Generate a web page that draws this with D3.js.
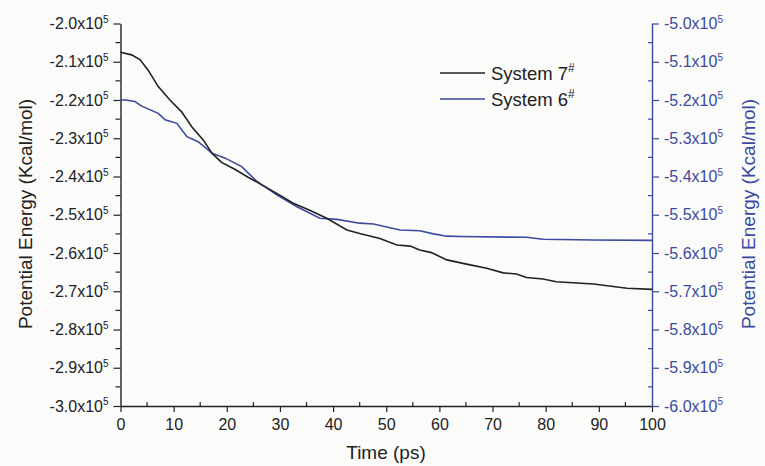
<!DOCTYPE html>
<html>
<head>
<meta charset="utf-8">
<script src="https://cdn.jsdelivr.net/npm/d3@7.9.0/dist/d3.min.js"></script>
<style>
  body { margin: 0; background: #fbfbf9; }
  svg { display: block; font-family: "Liberation Sans", Arial, sans-serif; }
</style>
</head>
<body>
<svg id="chart" width="765" height="466"></svg>
<script>
// System 7# (left axis, x10^5 Kcal/mol)
const time7 = [0, 2.1, 3.7, 5.2, 7.1, 9.3, 11.5, 13.4, 15.6, 17.2, 19.0, 21.5, 24.0, 25.6, 29.4, 32.5, 35.6, 38.8, 42.6, 45, 48.8, 52, 54.5, 56.3, 58.5, 61.4, 65.1, 68.9, 72, 74.5, 76.4, 79.5, 82, 89, 95.3, 100];
const energy7 = [-2.075, -2.082, -2.095, -2.122, -2.165, -2.200, -2.231, -2.270, -2.305, -2.339, -2.363, -2.381, -2.402, -2.414, -2.444, -2.470, -2.488, -2.509, -2.540, -2.549, -2.562, -2.579, -2.582, -2.592, -2.599, -2.618, -2.629, -2.640, -2.652, -2.655, -2.664, -2.668, -2.675, -2.681, -2.692, -2.695];

// System 6# (right axis, x10^5 Kcal/mol)
const time6 = [0, 1, 2.7, 4.0, 7.1, 8.4, 10.6, 12.5, 14.6, 17.2, 19.7, 22.8, 25.6, 29.4, 33.2, 37.5, 40.7, 45, 47.6, 52.6, 56.3, 58.9, 61.4, 63.9, 76.4, 79.5, 89, 100];
const energy6 = [-5.200, -5.200, -5.204, -5.216, -5.235, -5.252, -5.261, -5.296, -5.309, -5.339, -5.352, -5.374, -5.412, -5.448, -5.479, -5.509, -5.512, -5.522, -5.524, -5.540, -5.542, -5.550, -5.556, -5.557, -5.559, -5.564, -5.566, -5.567];

const xTicks = [0, 10, 20, 30, 40, 50, 60, 70, 80, 90, 100];
const leftTicks = [-3.0, -2.9, -2.8, -2.7, -2.6, -2.5, -2.4, -2.3, -2.2, -2.1, -2.0];
const rightTicks = [-6.0, -5.9, -5.8, -5.7, -5.6, -5.5, -5.4, -5.3, -5.2, -5.1, -5.0];

const blue = '#3a4aa0';
const dark = '#222';
const font = '"Liberation Sans", Arial, sans-serif';

const svg = d3.select('#chart');
const mLeft = 120.5, mRight = 652, mTop = 23.5, mBottom = 406;

const x = d3.scaleLinear().domain([0, 100]).range([mLeft, mRight]);
const yL = d3.scaleLinear().domain([-3.0, -2.0]).range([mBottom, mTop]);
const yR = d3.scaleLinear().domain([-6.0, -5.0]).range([mBottom, mTop]);

svg.append('rect').attr('width', 765).attr('height', 466).attr('fill', '#fbfbf9');

function sciLabel(sel) {
  sel.each(function (d) {
    const t = d3.select(this);
    t.text(null);
    t.append('tspan').text(d.toFixed(1) + 'x10');
    t.append('tspan').attr('dy', -6.5).attr('font-size', 10).text('5');
  });
}

// x axis
const xAxis = svg.append('g').attr('transform', `translate(0,${mBottom})`)
  .call(d3.axisBottom(x).tickValues(xTicks).tickSize(6).tickSizeOuter(0).tickFormat(d3.format('d')));
xAxis.select('.domain').attr('stroke', dark).attr('stroke-width', 1.4);
xAxis.selectAll('.tick line').attr('stroke', dark).attr('stroke-width', 1.2);
xAxis.selectAll('.tick text').attr('font-size', 16).attr('fill', dark).attr('dy', '0.95em')
  .attr('font-family', font);
// minor x ticks (inward)
svg.append('g').selectAll('line').data(xTicks.slice(0, -1).map(d => d + 5)).join('line')
  .attr('x1', d => x(d)).attr('x2', d => x(d))
  .attr('y1', mBottom).attr('y2', mBottom - 4)
  .attr('stroke', dark).attr('stroke-width', 1.2);

// left axis
const lAxis = svg.append('g').attr('transform', `translate(${mLeft},0)`)
  .call(d3.axisLeft(yL).tickValues(leftTicks).tickSize(7).tickSizeOuter(0));
lAxis.select('.domain').attr('stroke', dark).attr('stroke-width', 1.4);
lAxis.selectAll('.tick line').attr('stroke', dark).attr('stroke-width', 1.2);
lAxis.selectAll('.tick text').attr('font-size', 16).attr('fill', dark).attr('x', -12)
  .attr('font-family', font).call(sciLabel);
svg.append('g').selectAll('line').data(leftTicks.slice(0, -1).map(d => d + 0.05)).join('line')
  .attr('x1', mLeft).attr('x2', mLeft - 5)
  .attr('y1', d => yL(d)).attr('y2', d => yL(d))
  .attr('stroke', dark).attr('stroke-width', 1.2);

// right axis
const rAxis = svg.append('g').attr('transform', `translate(${mRight},0)`)
  .call(d3.axisRight(yR).tickValues(rightTicks).tickSize(7).tickSizeOuter(0));
rAxis.select('.domain').attr('stroke', blue).attr('stroke-width', 1.4);
rAxis.selectAll('.tick line').attr('stroke', blue).attr('stroke-width', 1.2);
rAxis.selectAll('.tick text').attr('font-size', 16).attr('fill', blue).attr('x', 12)
  .attr('font-family', font).call(sciLabel);
svg.append('g').selectAll('line').data(rightTicks.slice(0, -1).map(d => d + 0.05)).join('line')
  .attr('x1', mRight).attr('x2', mRight - 4)
  .attr('y1', d => yR(d)).attr('y2', d => yR(d))
  .attr('stroke', blue).attr('stroke-width', 1.2);

// lines
const line7 = d3.line().x((d, i) => x(time7[i])).y(d => yL(d));
const line6 = d3.line().x((d, i) => x(time6[i])).y(d => yR(d));
svg.append('path').datum(energy6).attr('d', line6)
  .attr('fill', 'none').attr('stroke', blue).attr('stroke-width', 1.6);
svg.append('path').datum(energy7).attr('d', line7)
  .attr('fill', 'none').attr('stroke', dark).attr('stroke-width', 1.6);

// axis titles
svg.append('text').attr('transform', 'translate(32,214) rotate(-90)')
  .attr('text-anchor', 'middle').attr('font-size', 19).attr('fill', dark)
  .text('Potential Energy (Kcal/mol)');
svg.append('text').attr('transform', 'translate(755,214) rotate(-90)')
  .attr('text-anchor', 'middle').attr('font-size', 19).attr('fill', blue)
  .text('Potential Energy (Kcal/mol)');
svg.append('text').attr('x', 386).attr('y', 459)
  .attr('text-anchor', 'middle').attr('font-size', 19).attr('fill', dark)
  .text('Time (ps)');

// legend
const legend = [{ name: 'System 7', color: dark, y: 73 }, { name: 'System 6', color: blue, y: 99 }];
const lg = svg.append('g').selectAll('g').data(legend).join('g')
  .attr('transform', d => `translate(440,${d.y})`);
lg.append('line').attr('x1', 0).attr('x2', 45).attr('stroke', d => d.color).attr('stroke-width', 1.6);
const lt = lg.append('text').attr('x', 51).attr('y', 7).attr('font-size', 18.5).attr('fill', dark);
lt.append('tspan').text(d => d.name);
lt.append('tspan').attr('dy', -8).attr('font-size', 12).text('#');
</script>
</body>
</html>
